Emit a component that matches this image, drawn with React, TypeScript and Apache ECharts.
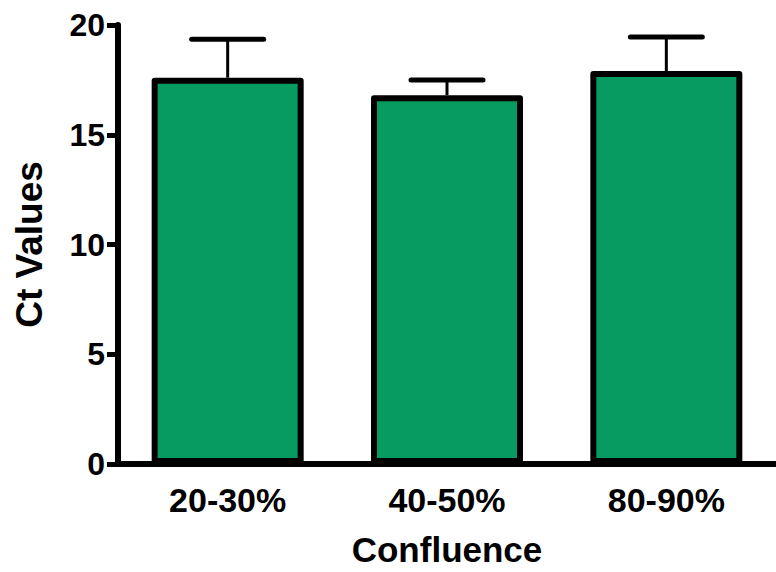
import React, { useEffect, useRef } from "react";
import * as echarts from "echarts";

const categories = ["20-30%", "40-50%", "80-90%"];
const meanValues = [17.6, 16.8, 17.9];
const errorValues = [1.75, 0.7, 1.55];
const yMin = 0;
const yMax = 20;
const yInterval = 5;

export default function App() {
  const ref = useRef<HTMLDivElement>(null);
  useEffect(() => {
    const chart = echarts.init(ref.current!, null, { renderer: "svg" });
    const font = "'Liberation Sans', Arial, Helvetica, sans-serif";
    chart.setOption({
      animation: false,
      backgroundColor: "#ffffff",
      grid: { left: 118, right: -6, top: 25, bottom: 107 },
      xAxis: {
        type: "category",
        data: categories,
        name: "Confluence",
        nameLocation: "middle",
        nameGap: 68,
        nameTextStyle: { fontFamily: font, fontWeight: "bold", fontSize: 35, color: "#000" },
        axisLine: { lineStyle: { color: "#000", width: 6 } },
        axisTick: { alignWithLabel: true, length: 11, lineStyle: { color: "#000", width: 5 } },
        axisLabel: { margin: 19, fontFamily: font, fontWeight: "bold", fontSize: 34, color: "#000" },
        splitLine: { show: false },
      },
      yAxis: {
        type: "value",
        min: yMin,
        max: yMax,
        interval: yInterval,
        name: "Ct Values",
        nameLocation: "middle",
        nameGap: 70,
        nameTextStyle: { fontFamily: font, fontWeight: "bold", fontSize: 37, color: "#000" },
        axisLine: { show: true, lineStyle: { color: "#000", width: 6 } },
        axisTick: { show: true, length: 11, lineStyle: { color: "#000", width: 5 } },
        axisLabel: { margin: 13, fontFamily: font, fontWeight: "bold", fontSize: 32, color: "#000" },
        splitLine: { show: false },
      },
      series: [
        {
          type: "custom",
          z: 1,
          data: categories.map((_, i) => [i, meanValues[i], meanValues[i] + errorValues[i]]),
          renderItem: (params: any, api: any) => {
            const x = api.value(0);
            const lo = api.value(1);
            const hi = api.value(2);
            const top = api.coord([x, hi]);
            const bot = api.coord([x, lo]);
            const half = 36;
            return {
              type: "group",
              children: [
                {
                  type: "line",
                  shape: { x1: top[0], y1: top[1], x2: bot[0], y2: bot[1] },
                  style: { stroke: "#000", lineWidth: 3 },
                },
                {
                  type: "line",
                  shape: { x1: top[0] - half, y1: top[1], x2: top[0] + half, y2: top[1] },
                  style: { stroke: "#000", lineWidth: 5, lineCap: "round" },
                },
              ],
            };
          },
        },
        {
          type: "bar",
          z: 2,
          data: meanValues,
          barWidth: 152,
          itemStyle: { color: "#079b62", borderColor: "#000", borderWidth: 6, borderJoin: "round" },
        },
      ],
    });
    return () => chart.dispose();
  }, []);
  return <div ref={ref} style={{ position: "absolute", left: 0, top: 0, width: 776, height: 572 }} />;
}
